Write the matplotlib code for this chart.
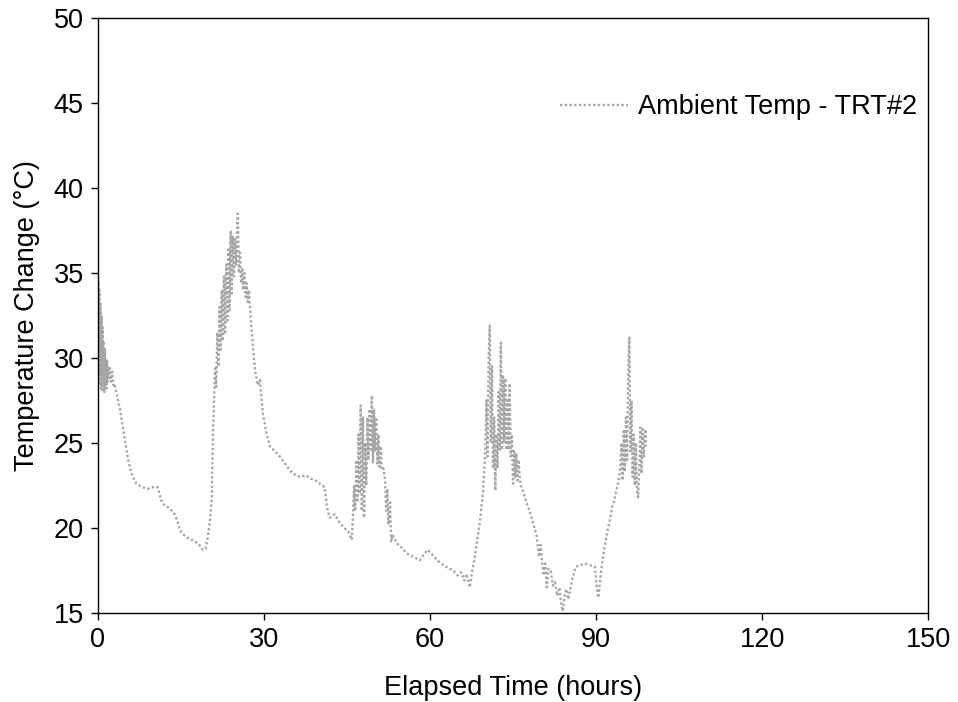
import matplotlib.pyplot as plt
import numpy as np

# Ambient temperature trace for TRT#2
# (hours, degC), split into the visible episodes of the record
start_h = [0.0, 0.1, 0.2, 0.3, 0.4, 0.5, 0.6, 0.7, 0.8, 0.9, 1.0, 1.1, 1.2, 1.3,
           1.4, 1.5, 1.6, 1.7, 1.8, 1.9, 2.0, 2.2, 2.4, 2.6, 2.8, 3.0]
start_c = [31.0, 34.5, 29.0, 34.0, 28.5, 33.2, 28.2, 32.5, 28.0, 31.8, 28.3, 31.0,
           28.0, 30.5, 28.4, 30.0, 28.2, 29.8, 28.6, 29.5, 28.8, 29.4, 28.6, 29.2,
           28.4, 28.5]

night1_h = [3.5, 4.0, 4.5, 5.0, 5.5, 6.0, 6.5, 7.0, 7.5, 8.0, 9.0, 10.0, 10.8,
            11.6, 12.2, 12.8, 13.4, 13.9, 14.4, 14.8, 15.5, 16.3, 17.0, 17.5,
            18.1, 18.6, 19.0, 19.5, 19.9]
night1_c = [27.8, 27.0, 26.0, 25.0, 24.0, 23.3, 22.9, 22.6, 22.5, 22.4, 22.3,
            22.4, 22.4, 21.5, 21.3, 21.2, 21.0, 20.8, 20.4, 19.9, 19.6, 19.4,
            19.3, 19.2, 19.1, 18.9, 18.7, 18.8, 19.5]

peak1_h = [20.3, 20.6, 20.8, 21.0, 21.2, 21.4, 21.6, 21.8, 22.0, 22.2, 22.4,
           22.6, 22.8, 23.0, 23.2, 23.4, 23.6, 23.8, 24.0, 24.2, 24.4, 24.6,
           24.8, 25.0, 25.2, 25.3, 25.5, 25.7, 25.9, 26.1, 26.3, 26.5, 26.7,
           26.9, 27.1, 27.3, 27.5]
peak1_c = [20.5, 21.8, 25.4, 27.5, 29.5, 28.3, 31.5, 29.5, 33.0, 30.5, 34.0,
           31.0, 34.8, 31.4, 35.5, 32.2, 36.5, 32.8, 37.5, 33.8, 37.2, 34.8,
           37.0, 35.5, 37.8, 38.5, 35.0, 36.2, 34.4, 35.3, 34.0, 35.0, 33.6,
           34.4, 33.3, 34.0, 33.0]

night2_h = [27.8, 28.4, 28.9, 29.3, 29.8, 30.5, 31.1, 32.0, 32.9, 34.0, 35.2,
            36.5, 37.5, 38.5, 39.3, 40.1, 41.0, 41.4, 41.9, 42.8, 43.7, 44.5,
            45.2, 45.9]
night2_c = [31.6, 29.3, 28.4, 28.7, 26.8, 25.5, 24.8, 24.5, 24.2, 23.7, 23.2,
            23.0, 23.1, 22.9, 22.8, 22.6, 22.4, 21.2, 20.6, 20.8, 20.3, 20.0,
            19.8, 19.3]

peak2_h = [46.1, 46.3, 46.5, 46.7, 46.9, 47.1, 47.3, 47.5, 47.7, 47.9, 48.1,
           48.3, 48.5, 48.7, 48.9, 49.1, 49.3, 49.5, 49.7, 49.9, 50.1, 50.3,
           50.5, 50.7, 50.9, 51.1, 51.3, 51.6, 51.9, 52.1, 52.3, 52.5, 52.8,
           53.0, 53.3]
peak2_c = [20.8, 22.5, 21.0, 24.0, 21.5, 25.5, 22.0, 27.2, 21.0, 26.5, 20.6,
           25.0, 22.5, 26.5, 24.0, 27.0, 24.5, 27.8, 23.8, 27.0, 24.5, 26.5,
           23.8, 25.5, 23.6, 24.8, 23.4, 23.5, 22.8, 21.0, 22.3, 20.2, 21.5,
           19.2, 19.6]

night3_h = [54.0, 55.0, 55.8, 57.0, 58.2, 59.0, 59.6, 60.5, 61.3, 62.0, 63.0,
            64.2, 65.0, 65.6, 66.2, 66.6, 66.9, 67.2]
night3_c = [19.1, 18.8, 18.5, 18.3, 18.1, 18.5, 18.7, 18.4, 18.1, 17.9, 17.7,
            17.5, 17.2, 17.4, 16.9, 17.3, 16.9, 16.5]

peak3_h = [67.6, 68.1, 68.5, 69.0, 69.6, 70.0, 70.2, 70.4, 70.6, 70.8, 71.0,
           71.2, 71.4, 71.6, 71.8, 72.0, 72.2, 72.4, 72.6, 72.8, 73.0, 73.2,
           73.4, 73.6, 73.8, 74.0, 74.2, 74.4, 74.6, 74.8, 75.0, 75.2, 75.4,
           75.6, 75.8, 76.0, 76.3]
peak3_c = [17.4, 18.3, 19.2, 20.3, 22.2, 24.6, 27.5, 24.2, 30.0, 31.9, 25.0,
           29.5, 23.5, 26.5, 22.2, 25.5, 23.5, 28.0, 24.6, 30.9, 24.6, 29.0,
           25.0, 28.8, 24.6, 27.5, 24.6, 28.5, 24.2, 25.5, 22.6, 24.5, 23.0,
           24.4, 22.8, 24.0, 22.6]

night4_h = [76.8, 77.4, 78.0, 78.6, 79.3, 79.7, 80.0, 80.2, 80.5, 80.8, 81.1,
            81.4, 81.8, 82.2, 82.6, 83.0, 83.4, 83.7, 84.0, 84.3, 84.6, 85.0,
            85.4, 85.8, 86.3, 87.0, 88.0, 89.0, 89.8, 90.1, 90.4, 90.7, 91.0]
night4_c = [22.2, 21.5, 21.0, 20.3, 19.5, 18.3, 19.0, 18.1, 17.2, 17.9, 16.5,
            17.6, 17.5, 16.6, 16.8, 16.0, 16.5, 15.5, 15.1, 16.0, 16.4, 15.8,
            16.5, 17.1, 17.7, 17.8, 17.9, 17.8, 17.7, 16.6, 15.9, 16.8, 17.7]

peak4_h = [91.5, 92.0, 92.5, 92.9, 93.4, 93.8, 94.2, 94.4, 94.6, 94.8, 95.0,
           95.2, 95.4, 95.6, 95.8, 96.0, 96.2, 96.4, 96.6, 96.8, 97.0, 97.2,
           97.4, 97.6, 97.8, 98.0, 98.2, 98.4, 98.6, 98.9, 99.0]
peak4_c = [18.8, 19.7, 20.5, 21.2, 21.8, 22.4, 23.0, 23.6, 25.0, 22.8, 25.8,
           23.3, 26.5, 24.0, 29.0, 31.2, 24.5, 27.5, 23.0, 25.5, 22.5, 25.0,
           22.2, 21.8, 23.5, 25.9, 23.2, 25.8, 24.2, 25.8, 24.8]

hours = np.concatenate([start_h, night1_h, peak1_h, night2_h, peak2_h,
                        night3_h, peak3_h, night4_h, peak4_h])
temps = np.concatenate([start_c, night1_c, peak1_c, night2_c, peak2_c,
                        night3_c, peak3_c, night4_c, peak4_c])

plt.rcParams["font.family"] = ["Liberation Sans", "DejaVu Sans"]
FS = 19.5

fig = plt.figure(figsize=(9.58, 7.02), dpi=100)
ax = fig.add_axes([0.102, 0.127, 0.867, 0.847])

ax.plot(hours, temps, linestyle=(0, (1, 1)), color="#a6a6a6", linewidth=1.7,
        label="Ambient Temp - TRT#2")

ax.set_xlim(0, 150)
ax.set_ylim(15, 50)
ax.set_xticks(np.arange(0, 151, 30))
ax.set_yticks(np.arange(15, 51, 5))
ax.tick_params(direction="out", length=5, width=1, labelsize=FS, colors="black",
               pad=5)
for sp in ax.spines.values():
    sp.set_linewidth(1.0)
    sp.set_color("black")

ax.set_xlabel("Elapsed Time (hours)", fontsize=FS, labelpad=16)
ax.set_ylabel("Temperature Change (°C)", fontsize=FS, labelpad=10)

ax.legend(loc="upper right", frameon=False, fontsize=FS,
          bbox_to_anchor=(1.0, 0.89), borderaxespad=0.0,
          handlelength=2.5, handletextpad=0.4)

fig.savefig("out.png", dpi=100)
